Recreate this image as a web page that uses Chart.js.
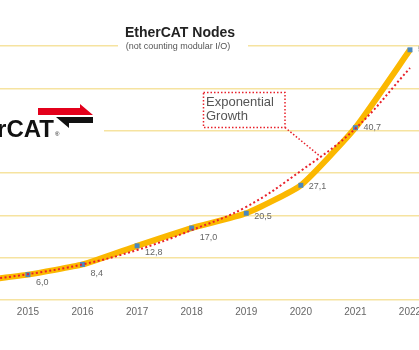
<!DOCTYPE html>
<html>
<head>
<meta charset="utf-8">
<script src="https://cdn.jsdelivr.net/npm/chart.js@4/dist/chart.umd.min.js"></script>
<style>
  html, body { margin: 0; padding: 0; background: #fff; }
  #wrap { width: 419px; height: 350px; }
</style>
</head>
<body>
<div id="wrap"><canvas id="nodes" width="419" height="350"></canvas></div>
<script>
// data (million nodes)
var years = [2014, 2015, 2016, 2017, 2018, 2019, 2020, 2021, 2022];
var nodes = [4.4, 6.0, 8.4, 12.8, 17.0, 20.5, 27.1, 40.7, 59.1];
var trend = [4.4, 6.1, 8.4, 11.8, 16.5, 22.0, 30.5, 40.5, 54.8];
var tickYears = [2015, 2016, 2017, 2018, 2019, 2020, 2021, 2022];
var yTicks = [0, 10, 20, 30, 40, 50, 60];

var FONT = '"Liberation Sans", Arial, sans-serif';
Chart.defaults.font.family = FONT;

// vertical offset of the value labels (px, right of each point)
var LABEL_DY = [0, 8, 9, 7, 9, 3, 1, 0, 0];

function toPoints(vals) {
  return years.map(function (y, i) { return { x: y, y: vals[i] }; });
}

var decorations = {
  id: 'decorations',
  beforeDatasetsDraw: function (chart) {
    var ctx = chart.ctx;
    ctx.save();
    // white panels over the grid (title and logo)
    ctx.fillStyle = '#fff';
    ctx.fillRect(118, 20, 130, 36);
    ctx.fillRect(0, 93, 104, 65);

    // title
    ctx.fillStyle = '#222';
    ctx.textAlign = 'center';
    ctx.textBaseline = 'alphabetic';
    ctx.font = 'bold 14px ' + FONT;
    ctx.fillText('EtherCAT Nodes', 180, 37);
    ctx.fillStyle = '#555';
    ctx.font = '9px ' + FONT;
    ctx.fillText('(not counting modular I/O)', 178, 49);

    // logo (cut at the left edge)
    ctx.fillStyle = '#111';
    ctx.textAlign = 'right';
    ctx.font = 'bold 24px ' + FONT;
    ctx.fillText('EtherCAT', 54, 137);
    ctx.font = '6px ' + FONT;
    ctx.textAlign = 'left';
    ctx.fillText('\u00AE', 55, 136);
    // red arrow, pointing right
    ctx.fillStyle = '#E3001B';
    ctx.beginPath();
    ctx.moveTo(38, 108);
    ctx.lineTo(80, 108);
    ctx.lineTo(80, 104);
    ctx.lineTo(93, 115);
    ctx.lineTo(38, 115);
    ctx.closePath();
    ctx.fill();
    // black arrow, pointing back
    ctx.fillStyle = '#111';
    ctx.beginPath();
    ctx.moveTo(56, 117);
    ctx.lineTo(93, 117);
    ctx.lineTo(93, 123);
    ctx.lineTo(69, 123);
    ctx.lineTo(69, 128);
    ctx.closePath();
    ctx.fill();
    ctx.restore();
  },
  afterDatasetsDraw: function (chart) {
    var ctx = chart.ctx;
    var meta = chart.getDatasetMeta(1);
    ctx.save();
    // value labels
    ctx.fillStyle = '#666';
    ctx.font = '9px ' + FONT;
    ctx.textAlign = 'left';
    ctx.textBaseline = 'middle';
    meta.data.forEach(function (pt, i) {
      if (years[i] < tickYears[0]) return;
      ctx.fillText(nodes[i].toFixed(1).replace('.', ','), pt.x + 8, pt.y + LABEL_DY[i]);
    });

    // "Exponential Growth" callout
    ctx.fillStyle = '#fff';
    ctx.fillRect(203, 92, 82, 35);
    ctx.strokeStyle = '#E8202A';
    ctx.lineWidth = 1.5;
    ctx.setLineDash([1.5, 2]);
    ctx.strokeRect(203.5, 92.5, 81.5, 35);
    ctx.beginPath();
    ctx.moveTo(285, 127.5);
    ctx.lineTo(321, 157);
    ctx.stroke();
    ctx.setLineDash([]);
    ctx.fillStyle = '#555';
    ctx.font = '13px ' + FONT;
    ctx.textBaseline = 'alphabetic';
    ctx.fillText('Exponential', 206, 106);
    ctx.fillText('Growth', 206, 120);
    ctx.restore();
  }
};

new Chart(document.getElementById('nodes'), {
  type: 'line',
  data: {
    datasets: [{
      label: 'Exponential Growth',
      data: toPoints(trend),
      borderColor: '#E8202A',
      borderWidth: 2,
      borderDash: [2, 2.5],
      tension: 0.4,
      pointRadius: 0,
      order: 1
    }, {
      label: 'EtherCAT Nodes',
      data: toPoints(nodes),
      borderColor: '#FBB800',
      borderWidth: 6,
      tension: 0.15,
      pointStyle: 'rect',
      pointRadius: 3.5,
      pointBackgroundColor: '#4A88BE',
      pointBorderColor: '#4A88BE',
      pointBorderWidth: 0,
      order: 2
    }]
  },
  options: {
    responsive: false,
    animation: false,
    layout: { autoPadding: false, padding: { top: 46, bottom: 32, left: 0, right: 0 } },
    plugins: {
      legend: { display: false },
      tooltip: { enabled: false }
    },
    scales: {
      x: {
        type: 'linear',
        min: 2014.488,
        max: 2022.165,
        grid: { display: false, drawTicks: false, tickLength: 0 },
        border: { display: false },
        afterBuildTicks: function (scale) {
          scale.ticks = tickYears.map(function (v) { return { value: v }; });
        },
        afterFit: function (scale) {
          scale.paddingLeft = 0;
          scale.paddingRight = 0;
          scale.height = 18;
        },
        ticks: {
          padding: 6,
          color: '#666',
          font: { size: 10 },
          maxRotation: 0,
          autoSkip: false,
          callback: function (v) { return String(v); }
        }
      },
      y: {
        min: 0,
        max: 60,
        afterBuildTicks: function (scale) {
          scale.ticks = yTicks.map(function (v) { return { value: v }; });
        },
        afterFit: function (scale) {
          scale.width = 0;
          scale.paddingTop = 0;
          scale.paddingBottom = 0;
        },
        ticks: { display: false },
        border: { display: false },
        grid: { color: '#F6E3A0', lineWidth: 1.5, drawTicks: false }
      }
    }
  },
  plugins: [decorations]
});
</script>
</body>
</html>
